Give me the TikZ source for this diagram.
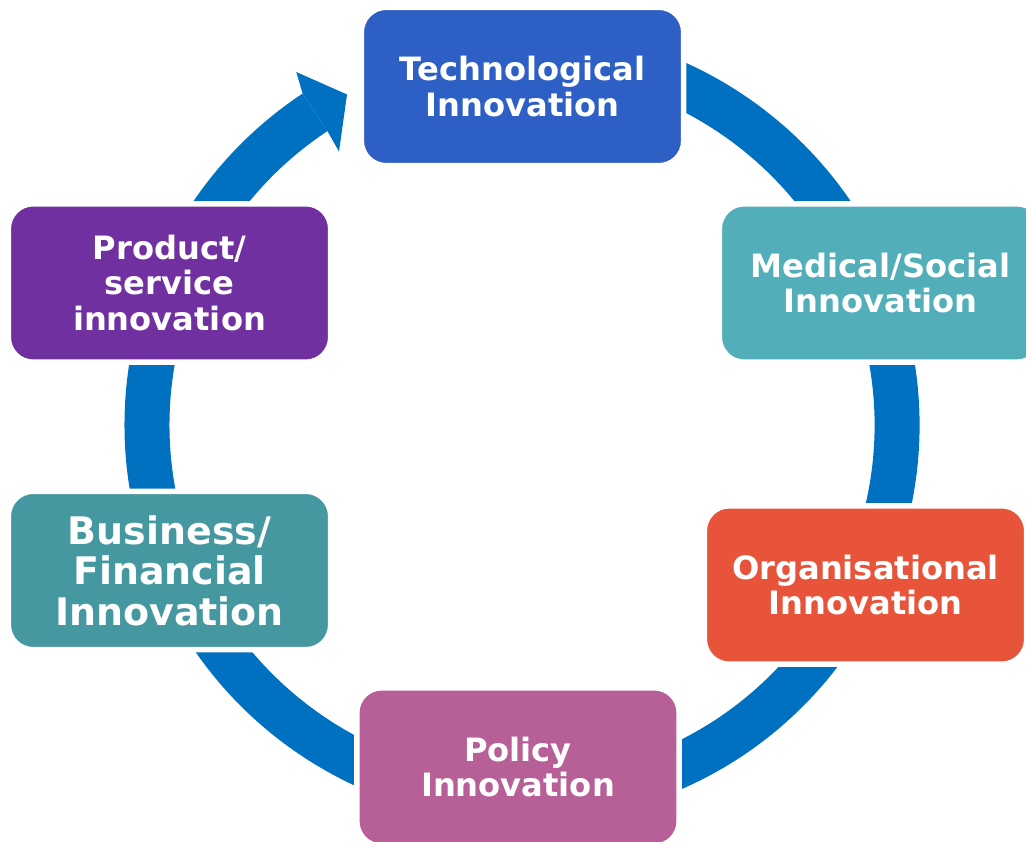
\documentclass[tikz,border=0pt]{standalone}
\usepackage{fontspec}
\setmainfont{DejaVu Sans}
\usepackage{tikz}
\usetikzlibrary{calc}
\definecolor{ringblue}{rgb}{0.,0.439,0.753}
\definecolor{techblue}{rgb}{0.180,0.373,0.769}
\definecolor{medteal}{rgb}{0.322,0.682,0.722}
\definecolor{orgred}{rgb}{0.910,0.329,0.227}
\definecolor{polpink}{rgb}{0.718,0.376,0.596}
\definecolor{busteal}{rgb}{0.275,0.596,0.627}
\definecolor{prodpurple}{rgb}{0.439,0.188,0.627}
\tikzstyle{every node}=[font=\bfseries\fontsize{18.3}{20.2}\selectfont]
\tikzstyle{box}=[rounded corners=0.5cm,draw=white,line width=0.11cm,text=white,align=center,minimum width=6.45cm,minimum height=3.17cm]

\begin{document}
\begin{tikzpicture}[line cap=butt,line join=round,x=0.02cm,y=0.02cm]
\clip(0,0) rectangle (1026,841);
\coordinate (c) at (522,416);
% ring with its head
\draw [line width=0.9cm,color=ringblue] ($(c)+(105:375)$) arc [start angle=105,end angle=-236.5,radius=375];
\fill [color=ringblue] ($(c)+(123.5:397.5)$) -- ($(c)+(122.6:419)$) -- ($(c)+(117.9:374)$) -- ($(c)+(123.8:329)$) -- ($(c)+(123.5:352.5)$) -- cycle;
% boxes
\node [box,fill=techblue] (tech) at (522.5,754.5) {Technological\\Innovation};
\node [box,fill=medteal] (med) at (880.5,558) {Medical/Social\\Innovation};
\node [box,fill=orgred] (org) at (865.5,256) {Organisational\\Innovation};
\node [box,fill=polpink] (pol) at (518,74) {Policy\\Innovation};
\node [box,fill=busteal,font=\bfseries\fontsize{21.6}{23}\selectfont] (bus) at (169.5,270.5) {Business/\\Financial\\Innovation};
\node [box,fill=prodpurple] (prod) at (169.5,558) {Product/\\service\\innovation};
\end{tikzpicture}
\end{document}
